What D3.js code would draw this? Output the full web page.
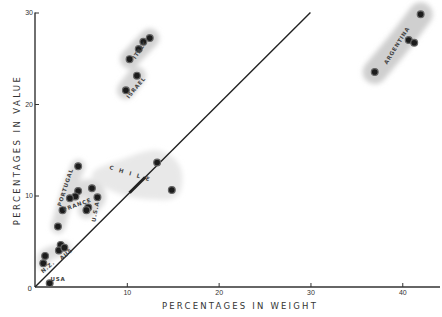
<!DOCTYPE html>
<html>
<head>
<meta charset="utf-8">
<script src="https://cdn.jsdelivr.net/npm/d3@7"></script>
<style>
  body { margin: 0; background: #fff; }
  svg { display: block; }
</style>
</head>
<body>
<div id="chart"></div>
<script>
// values (percentages in weight, percentages in value)
var argentina = [[37.0, 23.5], [40.7, 27.0], [41.3, 26.7], [42.0, 29.8]];
var italy = [[10.3, 24.9], [11.3, 26.0], [11.8, 26.8], [12.5, 27.2]];
var israel = [[9.9, 21.5], [11.1, 23.1]];
var chile = [[13.3, 13.6], [14.9, 10.6]];
var portugal = [[4.7, 13.2], [3.0, 8.4], [2.5, 6.6]];
var france = [[4.7, 10.5], [4.4, 9.9], [3.8, 9.7]];
var spain = [[6.2, 10.8], [6.8, 9.8], [5.8, 8.7], [5.6, 8.4]];
var aus = [[2.8, 4.6], [2.6, 4.0], [3.2, 4.3]];
var nz = [[1.1, 3.4], [0.9, 2.6]];
var usa = [[1.6, 0.4]];

// grey shading round the groups
var blobArgentina = [[37.0, 23.5], [39.5, 26.5], [42.0, 29.8]];
var blobItaly = [[10.3, 24.9], [12.5, 27.2]];
var blobIsrael = [[9.9, 21.5], [11.1, 23.1]];
var blobChile = [[6.5, 12.2], [9.5, 13.6], [13.5, 14.6], [15.5, 13.0], [15.3, 10.2], [12.5, 9.9], [8.5, 10.8]];
var blobPortugal = [[2.5, 6.6], [3.0, 8.4], [3.8, 11.0], [4.7, 13.2]];
var blobCluster = [[3.8, 9.7], [4.7, 10.5], [6.2, 10.8], [6.8, 9.8], [5.6, 8.4]];
var blobLow = [[0.9, 2.6], [1.1, 3.4], [2.6, 4.0], [3.2, 4.3]];

var xTicks = [10, 20, 30, 40];
var yTicks = [10, 20, 30];
var diagonal = [[0, 0], [30, 30]];
var chileSegment = [[10.3, 10.3], [12.0, 12.0]];

// labels: [text, x, y, angle]
var labels = [
  ["ARGENTINA", 39.4, 26.4, -58],
  ["ITALY", 11.4, 25.9, -55],
  ["ISRAEL", 11.0, 21.8, -50],
  ["C H I L E", 10.4, 12.4, 17],
  ["PORTUGAL", 3.3, 10.9, -72],
  ["FRANCE", 4.6, 9.0, -20],
  ["U.S.A.", 6.6, 8.4, -80],
  ["AUS", 3.4, 3.6, -40],
  ["N.Z.", 1.4, 2.2, -40],
  ["USA", 2.5, 0.9, 0]
];

var svgWidth = 442, svgHeight = 317;
var svg = d3.select('#chart').append('svg')
  .attr('width', svgWidth)
  .attr('height', svgHeight)
  .attr('font-family', 'DejaVu Sans');

var x = d3.scaleLinear().domain([0, 44]).range([35, 439]);
var y = d3.scaleLinear().domain([0, 30]).range([287, 12.5]);

var defs = svg.append('defs');
defs.append('filter').attr('id', 'soft')
  .attr('x', '-30%').attr('y', '-30%').attr('width', '160%').attr('height', '160%')
  .append('feGaussianBlur').attr('stdDeviation', 2.5);
defs.append('filter').attr('id', 'dotBlur')
  .append('feGaussianBlur').attr('stdDeviation', 0.6);

var line = d3.line().x(d => x(d[0])).y(d => y(d[1]));
var smooth = d3.line().x(d => x(d[0])).y(d => y(d[1])).curve(d3.curveCatmullRom);

// shaded blobs
var blobs = svg.append('g').attr('filter', 'url(#soft)');
[[blobArgentina, 24, '#cfcfcf'], [blobItaly, 19, '#d2d2d2'], [blobIsrael, 18, '#d6d6d6'],
 [blobPortugal, 14, '#dcdcdc'], [blobCluster, 17, '#dcdcdc'], [blobLow, 13, '#dedede']]
  .forEach(b => {
    blobs.append('path').attr('d', smooth(b[0]))
      .attr('fill', 'none').attr('stroke', b[2])
      .attr('stroke-width', b[1]).attr('stroke-linecap', 'round').attr('stroke-linejoin', 'round');
  });
blobs.append('path').attr('d', d3.line().x(d => x(d[0])).y(d => y(d[1])).curve(d3.curveCatmullRomClosed)(blobChile))
  .attr('fill', '#e8e8e8').attr('stroke', '#e8e8e8').attr('stroke-width', 6);

// axes
var xAxis = d3.axisBottom(x).tickValues(xTicks).tickSize(-4).tickPadding(3);
var yAxis = d3.axisLeft(y).tickValues(yTicks).tickSize(-4).tickPadding(2);

var gx = svg.append('g').attr('transform', 'translate(0,' + y(0) + ')').call(xAxis);
var gy = svg.append('g').attr('transform', 'translate(' + x(0) + ',0)').call(yAxis);
gx.select('.domain').attr('d', 'M' + x(0) + ',0H' + (svgWidth - 2));
gy.select('.domain').attr('d', 'M0,' + y(0) + 'V' + y(30));
[gx, gy].forEach(g => {
  g.selectAll('.domain').attr('stroke', '#333').attr('stroke-width', 1.4);
  g.selectAll('.tick line').attr('stroke', '#333').attr('stroke-width', 1);
  g.selectAll('.tick text').attr('fill', '#333').attr('font-size', 7);
});
svg.append('text').attr('x', x(0) - 3).attr('y', y(0) + 4)
  .attr('text-anchor', 'end').attr('font-size', 7).attr('fill', '#333').text('0');

// diagonal
svg.append('path').attr('d', line(diagonal))
  .attr('stroke', '#222').attr('stroke-width', 1.4).attr('fill', 'none');
svg.append('path').attr('d', line(chileSegment))
  .attr('stroke', '#222').attr('stroke-width', 3).attr('fill', 'none');

// points
var allPoints = [].concat(argentina, italy, israel, chile, portugal, france, spain, aus, nz, usa);
svg.append('g').attr('filter', 'url(#dotBlur)')
  .selectAll('circle').data(allPoints).enter().append('circle')
  .attr('cx', d => x(d[0])).attr('cy', d => y(d[1]))
  .attr('r', 3.4)
  .attr('fill', '#1e1e1e').attr('stroke', '#666').attr('stroke-width', 1.2);

// group labels
svg.append('g').selectAll('text').data(labels).enter().append('text')
  .attr('transform', d => 'translate(' + x(d[1]) + ',' + y(d[2]) + ') rotate(' + d[3] + ')')
  .attr('text-anchor', 'middle').attr('dy', '0.35em')
  .attr('font-size', 5.5).attr('letter-spacing', d => d[0] === 'C H I L E' ? 2 : 0.8)
  .attr('font-weight', 'bold')
  .attr('fill', '#444')
  .text(d => d[0]);

// axis titles
svg.append('text').attr('x', 240).attr('y', 309)
  .attr('text-anchor', 'middle').attr('font-size', 8.5).attr('letter-spacing', 2.2)
  .attr('fill', '#333').text('PERCENTAGES IN WEIGHT');
svg.append('text').attr('transform', 'translate(20,150) rotate(-90)')
  .attr('text-anchor', 'middle').attr('font-size', 8.5).attr('letter-spacing', 2.4)
  .attr('fill', '#333').text('PERCENTAGES IN VALUE');
</script>
</body>
</html>
